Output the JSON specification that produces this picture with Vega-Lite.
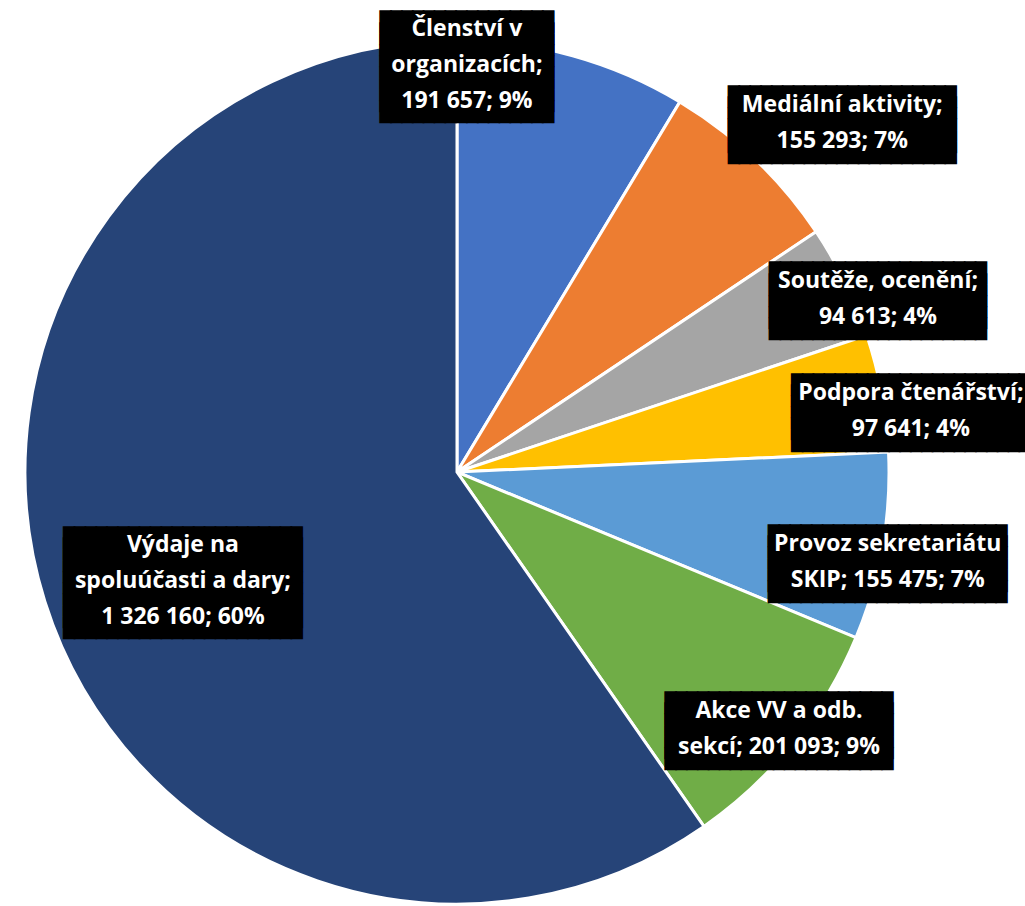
{
  "$schema": "https://vega.github.io/schema/vega-lite/v6.json",
  "autosize": "none",
  "width": 914,
  "height": 868,
  "padding": {"left": 0, "top": 38, "right": 111, "bottom": 0},
  "background": "white",
  "config": {"view": {"stroke": null}},
  "data": {
    "values": [
      {"poradi": 1, "kategorie": "Členství v organizacích", "castka": 191657, "popisek": ["Členství v", "organizacích;", "191 657; 9%"]},
      {"poradi": 2, "kategorie": "Mediální aktivity", "castka": 155293, "popisek": ["Mediální aktivity;", "155 293; 7%"]},
      {"poradi": 3, "kategorie": "Soutěže, ocenění", "castka": 94613, "popisek": ["Soutěže, ocenění;", "94 613; 4%"]},
      {"poradi": 4, "kategorie": "Podpora čtenářství", "castka": 97641, "popisek": ["Podpora čtenářství;", "97 641; 4%"]},
      {"poradi": 5, "kategorie": "Provoz sekretariátu SKIP", "castka": 155475, "popisek": ["Provoz sekretariátu", "SKIP; 155 475; 7%"]},
      {"poradi": 6, "kategorie": "Akce VV a odb. sekcí", "castka": 201093, "popisek": ["Akce VV a odb.", "sekcí; 201 093; 9%"]},
      {"poradi": 7, "kategorie": "Výdaje na spoluúčasti a dary", "castka": 1326160, "popisek": ["Výdaje na", "spoluúčasti a dary;", "1 326 160; 60%"]}
    ]
  },
  "encoding": {
    "theta": {"field": "castka", "type": "quantitative", "stack": true},
    "order": {"field": "poradi", "type": "quantitative"}
  },
  "layer": [
    {
      "mark": {"type": "arc", "radius": 432, "stroke": "white", "strokeWidth": 3},
      "encoding": {
        "color": {
          "field": "kategorie",
          "type": "nominal",
          "scale": {
            "domain": ["Členství v organizacích", "Mediální aktivity", "Soutěže, ocenění", "Podpora čtenářství", "Provoz sekretariátu SKIP", "Akce VV a odb. sekcí", "Výdaje na spoluúčasti a dary"],
            "range": ["#4472C4", "#ED7D31", "#A5A5A5", "#FFC000", "#5B9BD5", "#70AD47", "#264478"]
          },
          "legend": null
        }
      }
    },
    {
      "mark": {
        "type": "text",
        "font": "DejaVu Sans Mono",
        "fontSize": 18,
        "lineHeight": 11.2,
        "fill": "black",
        "stroke": "black",
        "strokeWidth": 1.5,
        "align": "center",
        "baseline": "middle",
        "radius": {"expr": "[407, 520, 455, 458, 440, 412, 295][datum.poradi - 1]"},
        "thetaOffset": {"expr": "[-0.2466, 0.0728, 0.0667, 0.0497, 0.0321, -0.0042, -0.0745][datum.poradi - 1]"},
        "dy": {"expr": "8.6 - 16.8*length(datum.popisek)"},
        "text": {"expr": "length(datum.popisek) == 3 ? [pad('', round((11.5*max(length(datum.popisek[0]), length(datum.popisek[1]), length(datum.popisek[2] || ''))+20)/10.84), '█'), pad('', round((11.5*max(length(datum.popisek[0]), length(datum.popisek[1]), length(datum.popisek[2] || ''))+20)/10.84), '█'), pad('', round((11.5*max(length(datum.popisek[0]), length(datum.popisek[1]), length(datum.popisek[2] || ''))+20)/10.84), '█'), pad('', round((11.5*max(length(datum.popisek[0]), length(datum.popisek[1]), length(datum.popisek[2] || ''))+20)/10.84), '█'), pad('', round((11.5*max(length(datum.popisek[0]), length(datum.popisek[1]), length(datum.popisek[2] || ''))+20)/10.84), '█'), pad('', round((11.5*max(length(datum.popisek[0]), length(datum.popisek[1]), length(datum.popisek[2] || ''))+20)/10.84), '█'), pad('', round((11.5*max(length(datum.popisek[0]), length(datum.popisek[1]), length(datum.popisek[2] || ''))+20)/10.84), '█'), pad('', round((11.5*max(length(datum.popisek[0]), length(datum.popisek[1]), length(datum.popisek[2] || ''))+20)/10.84), '█'), pad('', round((11.5*max(length(datum.popisek[0]), length(datum.popisek[1]), length(datum.popisek[2] || ''))+20)/10.84), '█')] : [pad('', round((11.5*max(length(datum.popisek[0]), length(datum.popisek[1]))+20)/10.84), '█'), pad('', round((11.5*max(length(datum.popisek[0]), length(datum.popisek[1]))+20)/10.84), '█'), pad('', round((11.5*max(length(datum.popisek[0]), length(datum.popisek[1]))+20)/10.84), '█'), pad('', round((11.5*max(length(datum.popisek[0]), length(datum.popisek[1]))+20)/10.84), '█'), pad('', round((11.5*max(length(datum.popisek[0]), length(datum.popisek[1]))+20)/10.84), '█'), pad('', round((11.5*max(length(datum.popisek[0]), length(datum.popisek[1]))+20)/10.84), '█')]"}
      },
      "encoding": {"detail": {"field": "kategorie", "type": "nominal"}}
    },
    {
      "mark": {
        "type": "text",
        "font": "Open Sans",
        "fontWeight": "bold",
        "fontSize": 23,
        "lineHeight": 36,
        "fill": "white",
        "align": "center",
        "baseline": "middle",
        "radius": {"expr": "[407, 520, 455, 458, 440, 412, 295][datum.poradi - 1]"},
        "thetaOffset": {"expr": "[-0.2466, 0.0728, 0.0667, 0.0497, 0.0321, -0.0042, -0.0745][datum.poradi - 1]"},
        "dy": {"expr": "-18*(length(datum.popisek) - 1)"}
      },
      "encoding": {
        "text": {"field": "popisek", "type": "nominal"},
        "detail": {"field": "kategorie", "type": "nominal"}
      }
    }
  ]
}
